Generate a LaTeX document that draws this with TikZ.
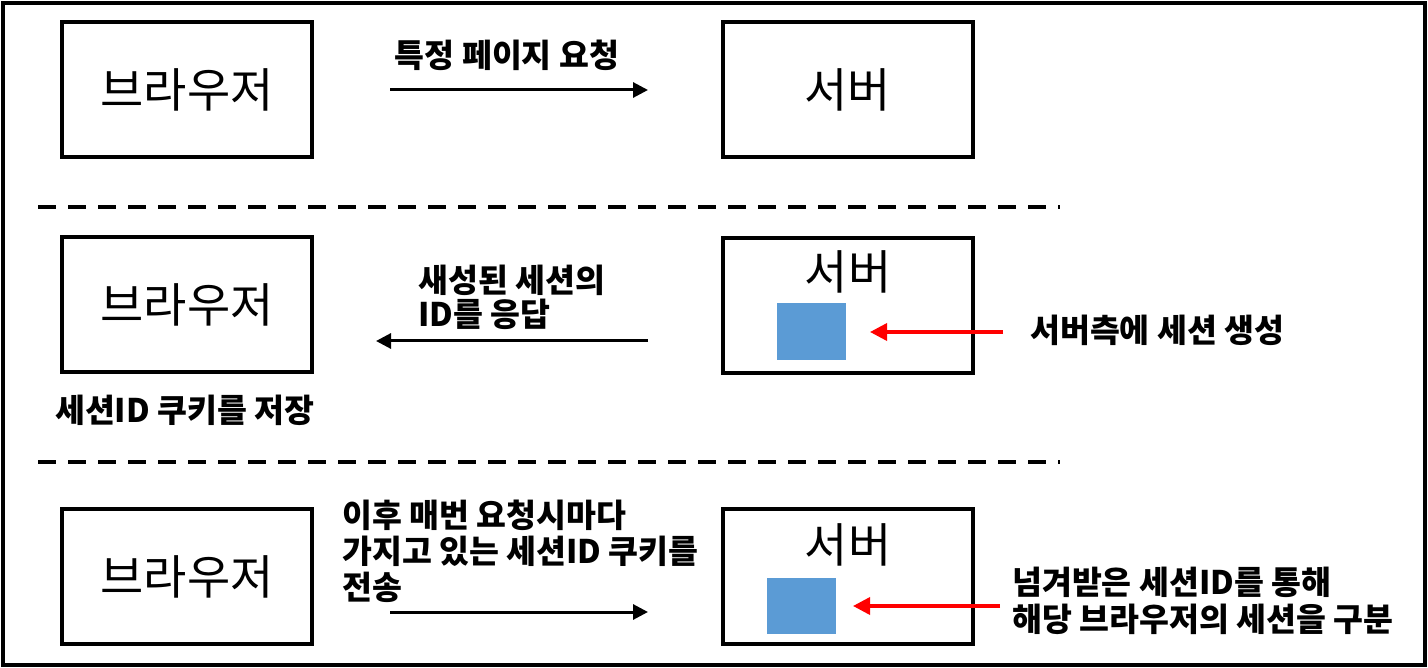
\documentclass[tikz,border=0pt]{standalone}
\usepackage{fontspec}
\setmainfont{Noto Sans CJK KR}
\newfontfamily\krfont{Noto Sans CJK KR}
\usetikzlibrary{arrows.meta}
\definecolor{sessblue}{RGB}{91,155,213}
\tikzset{
  boxnode/.style={draw,line width=4pt,minimum width=250pt,minimum height=135pt,inner sep=0pt,font=\krfont\fontsize{47}{52}\selectfont},
  servertxt/.style={font=\krfont\fontsize{47}{52}\selectfont,inner sep=0pt},
  lbl/.style={font=\krfont\bfseries\fontsize{32.5}{36}\selectfont,inner sep=0pt,align=left},
  blk/.style={line width=3pt,-{Triangle[length=15pt,width=15pt]}},
  redarr/.style={line width=3.5pt,red,-{Triangle[length=17pt,width=17pt]}},
  sep/.style={line width=4pt,dash pattern=on 18pt off 12pt},
  sess/.style={fill=sessblue,draw=none,minimum width=69pt,inner sep=0pt}
}
\begin{document}
\begin{tikzpicture}[x=1pt,y=-1pt]
\useasboundingbox (0,0) rectangle (1428,668);
\draw[line width=4pt] (3,3) rectangle (1425,665);
% row 1
\node[boxnode] (b1) at (187,89.5) {브라우저};
\node[boxnode] (s1) at (847.5,89.5) {서버};
\coordinate (a1s) at (390,90);
\coordinate (a1e) at (648,90);
\draw[blk] (a1s) -- (a1e);
\node[lbl] (l1) at (507,55) {특정 페이지 요청};
\coordinate (d1s) at (38,207);
\coordinate (d1e) at (1060,207);
\draw[sep] (d1s) -- (d1e);
% row 2
\node[boxnode] (b2) at (187,305) {브라우저};
\node[boxnode] (s2) at (847.5,305.5) {};
\node[servertxt] (s2t) at (848,272) {서버};
\node[sess,minimum height=57pt] (k2) at (811.5,331.5) {};
\coordinate (a2s) at (648,341);
\coordinate (a2e) at (376,341);
\draw[blk] (a2s) -- (a2e);
\node[lbl,anchor=west,font=\krfont\bfseries\fontsize{32.5}{34}\selectfont] (l2) at (418,297) {새성된 세션의\\ID를 응답};
\coordinate (r2s) at (1003,332);
\coordinate (r2e) at (870,332);
\draw[redarr] (r2s) -- (r2e);
\node[lbl,anchor=west] (l2r) at (1030,330) {서버측에 세션 생성};
\node[lbl,anchor=west] (l2b) at (55,410) {세션ID 쿠키를 저장};
\coordinate (d2s) at (38,462);
\coordinate (d2e) at (1060,462);
\draw[sep] (d2s) -- (d2e);
% row 3
\node[boxnode] (b3) at (187,576.5) {브라우저};
\node[boxnode] (s3) at (847.5,576.5) {};
\node[servertxt] (s3t) at (848,545) {서버};
\node[sess,minimum height=56pt] (k3) at (801.5,606) {};
\coordinate (a3s) at (390,612);
\coordinate (a3e) at (648,612);
\draw[blk] (a3s) -- (a3e);
\node[lbl,anchor=west] (l3) at (342,551) {이후 매번 요청시마다\\가지고 있는 세션ID 쿠키를\\전송};
\coordinate (r3s) at (1000,606);
\coordinate (r3e) at (853,606);
\draw[redarr] (r3s) -- (r3e);
\node[lbl,anchor=west,font=\krfont\bfseries\fontsize{32.5}{37}\selectfont] (l3r) at (1012,601) {넘겨받은 세션ID를 통해\\해당 브라우저의 세션을 구분};
\end{tikzpicture}
\end{document}
